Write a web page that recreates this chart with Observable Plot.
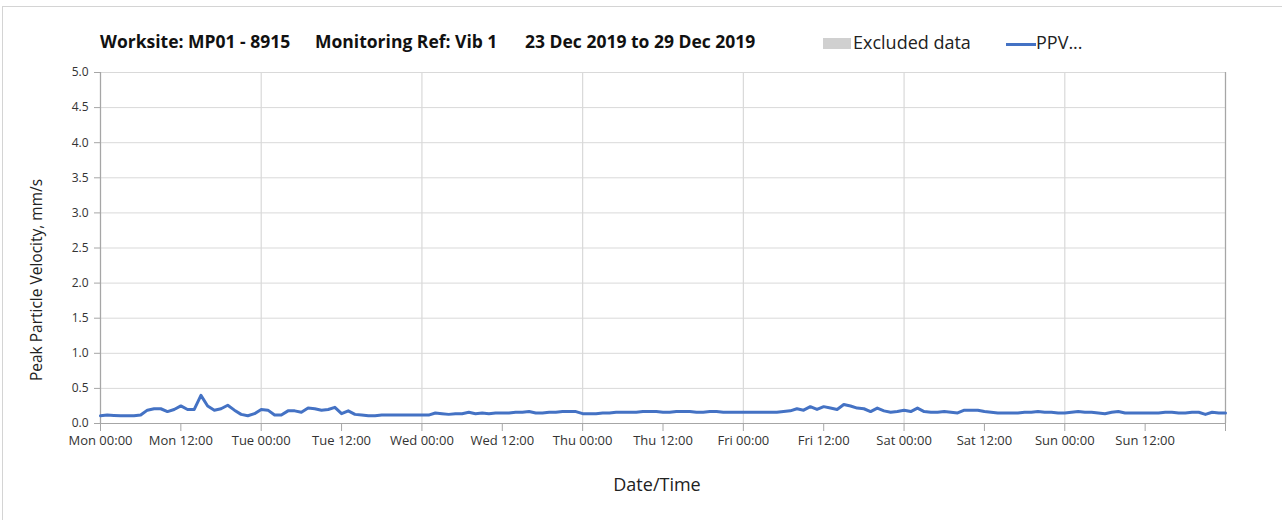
<!DOCTYPE html>
<html>
<head>
<meta charset="utf-8">
<script src="https://cdn.jsdelivr.net/npm/d3@7"></script>
<script src="https://cdn.jsdelivr.net/npm/@observablehq/plot@0.6"></script>
<style>
  html, body { margin: 0; padding: 0; background: #fff; }
  body { width: 1282px; height: 520px; overflow: hidden; position: relative; font-family: "Open Sans", sans-serif; }
  #frame { position: absolute; left: 2px; top: 6px; width: 1290px; height: 520px; border: 1px solid #d4d4d4; box-sizing: border-box; }
  #header { position: absolute; left: 0; top: 0; width: 1282px; height: 60px; }
  .t { position: absolute; top: 29px; font-weight: bold; font-size: 17.5px; color: #111; white-space: nowrap; }
  .lg { position: absolute; top: 30px; font-size: 18px; color: #222; white-space: nowrap; }
  #chart { position: absolute; left: 0; top: 60px; }
</style>
</head>
<body>
<div id="frame"></div>
<div id="header">
  <span class="t" style="left:100px">Worksite: MP01 - 8915</span>
  <span class="t" style="left:315px">Monitoring Ref: Vib 1</span>
  <span class="t" style="left:525px">23 Dec 2019 to 29 Dec 2019</span>
  <span style="position:absolute;left:823px;top:38px;width:28px;height:11px;background:#d0d0d0"></span>
  <span class="lg" style="left:853px">Excluded data</span>
  <span style="position:absolute;left:1006px;top:43px;width:30px;height:3px;background:#4472C4"></span>
  <span class="lg" style="left:1036px">PPV...</span>
</div>
<div id="chart"></div>
<script>
// Hourly PPV readings (mm/s), Mon 23 Dec 2019 00:00 to Mon 30 Dec 2019 00:00
const mon = [0.11,0.12,0.115,0.11,0.11,0.11,0.12,0.19,0.21,0.21,0.17,0.20,0.25,0.20,0.20,0.40,0.25,0.19,0.21,0.26,0.19,0.13,0.11,0.14];
const tue = [0.20,0.19,0.12,0.12,0.18,0.18,0.16,0.22,0.21,0.19,0.20,0.23,0.14,0.18,0.13,0.12,0.11,0.11,0.12,0.12,0.12,0.12,0.12,0.12];
const wed = [0.12,0.12,0.15,0.14,0.13,0.14,0.14,0.16,0.14,0.15,0.14,0.15,0.15,0.15,0.16,0.16,0.17,0.15,0.15,0.16,0.16,0.17,0.17,0.17];
const thu = [0.14,0.14,0.14,0.15,0.15,0.16,0.16,0.16,0.16,0.17,0.17,0.17,0.16,0.16,0.17,0.17,0.17,0.16,0.16,0.17,0.17,0.16,0.16,0.16];
const fri = [0.16,0.16,0.16,0.16,0.16,0.16,0.17,0.18,0.21,0.19,0.24,0.20,0.24,0.22,0.20,0.27,0.25,0.22,0.21,0.17,0.22,0.18,0.16,0.17];
const sat = [0.19,0.17,0.22,0.17,0.16,0.16,0.17,0.16,0.15,0.19,0.19,0.19,0.17,0.16,0.15,0.15,0.15,0.15,0.16,0.16,0.17,0.16,0.16,0.15];
const sun = [0.15,0.16,0.17,0.16,0.16,0.15,0.14,0.16,0.17,0.15,0.15,0.15,0.15,0.15,0.15,0.16,0.16,0.15,0.15,0.16,0.16,0.13,0.16,0.15];
const endValue = [0.15];

const startTime = Date.UTC(2019, 11, 23);
const endTime = Date.UTC(2019, 11, 30);
const yTicks = [0, 0.5, 1, 1.5, 2, 2.5, 3, 3.5, 4, 4.5, 5];
const dayLabels = ["Mon", "Tue", "Wed", "Thu", "Fri", "Sat", "Sun"];

const values = [...mon, ...tue, ...wed, ...thu, ...fri, ...sat, ...sun, ...endValue];
const data = values.map((v, i) => ({ t: new Date(startTime + i * 3600e3), v }));

const xTicks = d3.utcHour.every(12).range(new Date(startTime), new Date(endTime + 1));
const dayLines = d3.utcDay.range(new Date(startTime), new Date(endTime + 1));
const fmt = d => {
  if (+d >= endTime) return "";
  return dayLabels[(d.getUTCDay() + 6) % 7] + " " + d3.utcFormat("%H:%M")(d);
};

const chart = Plot.plot({
  width: 1282,
  height: 460,
  marginLeft: 100,
  marginRight: 57,
  marginTop: 12,
  marginBottom: 97,
  style: { fontFamily: "'Open Sans', sans-serif", fontSize: "12px", color: "#333", background: "transparent", overflow: "visible" },
  x: { type: "utc", domain: [new Date(startTime), new Date(endTime)] },
  y: { domain: [0, 5] },
  marks: [
    Plot.ruleY(yTicks, { stroke: "#d9d9d9", strokeWidth: 1 }),
    Plot.ruleX(dayLines, { stroke: "#d9d9d9", strokeWidth: 1.2 }),
    Plot.ruleX([new Date(startTime), new Date(endTime)], { stroke: "#a6a6a6", strokeWidth: 1.2 }),
    Plot.ruleY([0], { stroke: "#a6a6a6", strokeWidth: 1.2 }),
    Plot.axisY({ ticks: yTicks, tickFormat: d3.format(".1f"), tickSize: 6, tickPadding: 6, stroke: "#a6a6a6", fontSize: 12, label: null }),
    Plot.axisX({ ticks: xTicks, tickFormat: fmt, tickSize: 8, tickPadding: 4, stroke: "#a6a6a6", fontSize: 13, letterSpacing: 0.4, label: null }),
    Plot.text(["Peak Particle Velocity, mm/s"], { frameAnchor: "left", textAnchor: "middle", dx: -63, dy: 32, rotate: -90, fontSize: 15.5, fill: "#222" }),
    Plot.text(["Date/Time"], { frameAnchor: "bottom", dx: -6, dy: 67, fontSize: 18, fill: "#222" }),
    Plot.line(data, { x: "t", y: "v", stroke: "#4472C4", strokeWidth: 3, curve: "linear" })
  ]
});
document.getElementById("chart").appendChild(chart);
</script>
</body>
</html>
